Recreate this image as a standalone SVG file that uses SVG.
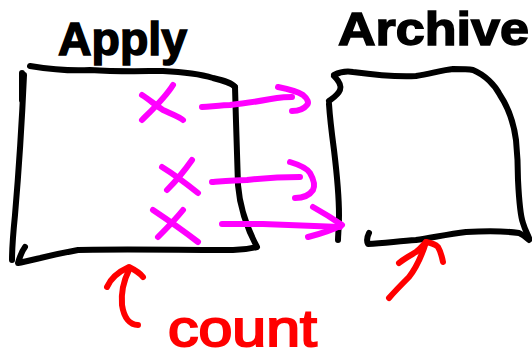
<svg xmlns="http://www.w3.org/2000/svg" width="532" height="360" viewBox="0 0 532 360">
  <style>
    .ink { fill: none; stroke-linecap: round; stroke-linejoin: round; stroke-width: 6; }
    .box { stroke: #000; }
    .mark { stroke: #ff00ff; }
    .note { stroke: #ff0000; }
    .label { font-family: "Liberation Sans", Arial, sans-serif; font-weight: bold; fill: #000; stroke: #000; stroke-width: 1.5; }
    .count { font-family: "Liberation Sans", Arial, sans-serif; fill: #ff0000; stroke: #ff0000; stroke-width: 2; }
  </style>
  <rect width="532" height="360" fill="#fff"/>

  <!-- Apply table -->
  <g id="apply">
    <text class="label" x="58" y="55" font-size="46" textLength="129" lengthAdjust="spacingAndGlyphs">Apply</text>
    <path class="ink box" d="M30,66 C55,70 75,71 90,70 C120,72 145,71 163,71 C185,72 200,74 213,78 C225,81 232,83 235,87"/>
    <path class="ink box" d="M22,73 L22,100" stroke-width="8"/>
    <path class="ink box" d="M24,75 C22,120 18,180 15,215 C13,235 12,250 12,260"/>
    <path class="ink box" d="M235,87 C236,120 237,160 238,185 C240,210 248,230 257,247 C245,250 240,250 233,250 C180,250 120,249 78,250 C50,255 30,261 18,263 C20,256 22,251 25,247"/>
    <!-- rejected rows -->
    <path class="ink mark" d="M142,95 C150,100 155,105 163,110 C172,114 180,117 183,120 M173,85 C165,98 152,110 142,120"/>
    <path class="ink mark" d="M162,167 C175,175 188,185 198,193 M192,160 C185,170 175,182 167,190"/>
    <path class="ink mark" d="M153,210 C168,220 185,232 198,242 M183,210 C175,220 165,230 158,237"/>
  </g>

  <!-- Archive table -->
  <g id="archive">
    <text class="label" x="338" y="45" font-size="46" textLength="191" lengthAdjust="spacingAndGlyphs">Archive</text>
    <path class="ink box" d="M334,76 C338,80 342,85 340,90 C338,95 333,98 329,101"/>
    <path class="ink box" d="M334,75 C340,72 347,71 353,72 C375,75 395,77 416,76 C430,74 442,70 453,69 C462,69 468,69 473,70 C485,75 495,85 500,95 C510,110 514,125 516,140 C518,160 518,175 518,180 C519,200 520,215 523,223 C525,230 528,235 529,238"/>
    <path class="ink box" d="M329,104 C330,120 332,135 334,150 C337,175 339,200 339,215 C339,228 338,235 338,240"/>
    <path class="ink box" d="M369,233 C367,237 366,240 368,244 C385,243 400,241 416,240 C435,237 450,234 466,232 C485,231 505,231 519,233 C524,235 527,238 529,240"/>
  </g>

  <!-- Moves from Apply to Archive -->
  <g id="connectors">
    <path class="ink mark" d="M202,107 C215,106 225,105 230,105 C250,103 265,100 277,98 C283,97 287,97 292,97"/>
    <path class="ink mark" d="M278,87 C288,89 297,91 303,95 C308,99 309,103 307,105 C304,109 298,111 292,111"/>
    <path class="ink mark" d="M212,182 C225,181 237,180 247,180 C265,178 282,177 300,177"/>
    <path class="ink mark" d="M290,162 C300,165 307,168 310,173 C314,180 315,186 313,190 C309,196 302,198 295,198"/>
    <path class="ink mark" d="M222,224 C240,224 252,224 263,224 C290,225 315,226 340,227"/>
    <path class="ink mark" d="M313,207 C322,212 332,218 342,225 C332,230 320,234 308,237"/>
    <!-- count markers -->
    <path class="ink note" d="M107,287 C110,280 118,272 129,267 C135,270 140,273 143,277"/>
    <path class="ink note" d="M129,270 C124,280 121,293 122,305 C124,318 130,325 138,325"/>
    <path class="ink note" d="M389,298 C396,290 403,283 409,277 C416,268 422,255 426,242"/>
    <path class="ink note" d="M399,263 C405,258 411,255 416,252 C420,249 423,245 426,242 C432,243 436,245 438,247 C441,252 442,257 443,262"/>
  </g>

  <text class="count" x="168" y="346" font-size="52" textLength="149" lengthAdjust="spacingAndGlyphs">count</text>
</svg>
